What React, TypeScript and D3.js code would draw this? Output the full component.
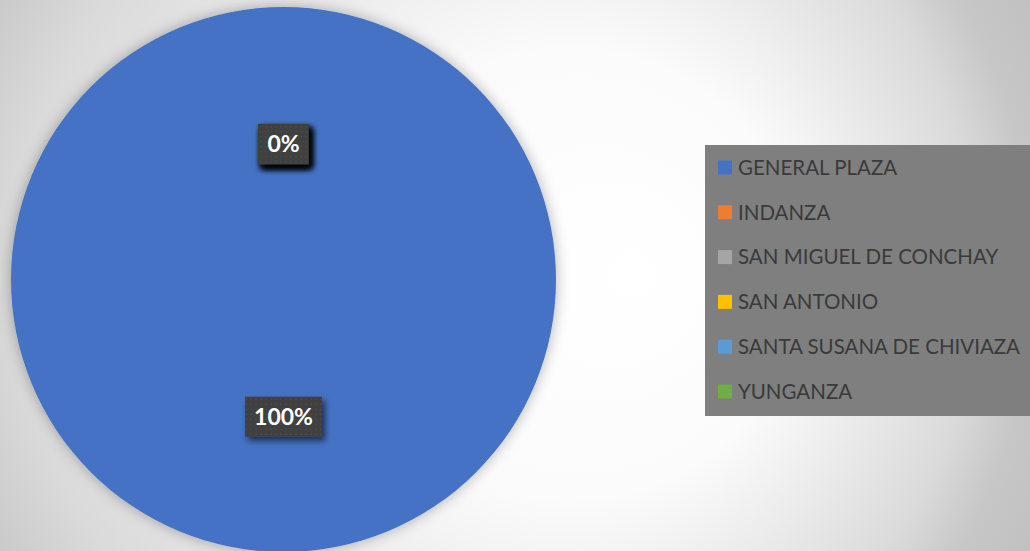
import React, { useEffect, useRef } from "react";
import * as d3 from "d3";

const categories = [
  "GENERAL PLAZA",
  "INDANZA",
  "SAN MIGUEL DE CONCHAY",
  "SAN ANTONIO",
  "SANTA SUSANA DE CHIVIAZA",
  "YUNGANZA",
];
const values = [100, 0, 0, 0, 0, 0];
const colors = ["#4472C4", "#ED7D31", "#A5A5A5", "#FFC000", "#5B9BD5", "#70AD47"];

const W = 1030;
const H = 551;

export default function App() {
  const ref = useRef<SVGSVGElement | null>(null);

  useEffect(() => {
    const svg = d3.select(ref.current);
    svg.selectAll("*").remove();

    const defs = svg.append("defs");
    const bg = defs
      .append("radialGradient")
      .attr("id", "bg")
      .attr("gradientUnits", "userSpaceOnUse")
      .attr("cx", 400)
      .attr("cy", 275)
      .attr("r", 800)
      .attr("fx", 640)
      .attr("fy", 275);
    [
      [0, "#ffffff"],
      [0.28, "#fbfbfb"],
      [0.6, "#dadada"],
      [0.7, "#c7c7c7"],
      [1, "#b5b5b5"],
    ].forEach(([o, c]) => bg.append("stop").attr("offset", o as number).attr("stop-color", c as string));

    const pieShadow = defs.append("filter").attr("id", "pieShadow").attr("x", "-20%").attr("y", "-20%").attr("width", "140%").attr("height", "140%");
    pieShadow
      .append("feDropShadow")
      .attr("dx", 0)
      .attr("dy", 0)
      .attr("stdDeviation", 7)
      .attr("flood-color", "#000")
      .attr("flood-opacity", 0.3);

    const boxShadow = defs.append("filter").attr("id", "boxShadow").attr("x", "-30%").attr("y", "-30%").attr("width", "160%").attr("height", "160%");
    boxShadow
      .append("feDropShadow")
      .attr("dx", 3)
      .attr("dy", 4)
      .attr("stdDeviation", 3)
      .attr("flood-color", "#000")
      .attr("flood-opacity", 0.6);

    const pat = defs
      .append("pattern")
      .attr("id", "dots")
      .attr("patternUnits", "userSpaceOnUse")
      .attr("width", 5)
      .attr("height", 5);
    pat.append("rect").attr("width", 5).attr("height", 5).attr("fill", "#404040");
    pat.append("rect").attr("x", 2).attr("y", 2).attr("width", 1).attr("height", 1).attr("fill", "#5a5a5a");

    svg.append("rect").attr("width", W).attr("height", H).attr("fill", "url(#bg)");

    const cx = 283.5;
    const cy = 279.5;
    const r = 272.5;

    const pie = d3.pie<number>().sort(null).value((d) => d)(values);
    const arc = d3.arc<d3.PieArcDatum<number>>().innerRadius(0).outerRadius(r);

    const g = svg.append("g").attr("transform", `translate(${cx},${cy})`);
    g.append("g")
      .attr("filter", "url(#pieShadow)")
      .selectAll("path")
      .data(pie)
      .join("path")
      .attr("d", (d) => arc(d) || "")
      .attr("fill", (d, i) => colors[i]);

    const total = d3.sum(values);
    const fmt = d3.format(".0%");
    const labels = g.append("g");
    pie.forEach((d, i) => {
      const [x, y] = arc.centroid(d);
      const lg = labels.append("g").attr("transform", `translate(${x},${y + 1})`);
      const rect = lg.append("rect").attr("fill", "url(#dots)").attr("filter", "url(#boxShadow)");
      const t = lg
        .append("text")
        .attr("text-anchor", "middle")
        .attr("dy", "0.35em")
        .attr("font-family", "Lato, 'Open Sans', sans-serif")
        .attr("font-weight", "bold")
        .attr("font-size", 23)
        .attr("fill", "#ffffff")
        .text(fmt(d.data / total));
      const tw = (t.node() as SVGTextElement).getComputedTextLength();
      const bw = tw + 18;
      const bh = 40;
      rect.attr("x", -bw / 2).attr("y", -bh / 2).attr("width", bw).attr("height", bh);
    });

    const legend = svg.append("g");
    legend.append("rect").attr("x", 705).attr("y", 145).attr("width", 325).attr("height", 271).attr("fill", "#7f7f7f");
    const ly = d3.scalePoint<string>().domain(categories).range([167.5, 391.5]);
    categories.forEach((c, i) => {
      const y = ly(c) as number;
      legend.append("rect").attr("x", 718).attr("y", y - 7).attr("width", 14).attr("height", 14).attr("fill", colors[i]);
      legend
        .append("text")
        .attr("x", 738)
        .attr("y", y)
        .attr("dy", "0.36em")
        .attr("font-family", "Lato, 'Open Sans', sans-serif")
        .attr("font-size", 20.5)
        .attr("fill", "#3a3a3a")
        .text(c);
    });
  }, []);

  return (
    <svg
      ref={ref}
      width={W}
      height={H}
      style={{ position: "absolute", left: 0, top: 0, display: "block" }}
    />
  );
}
